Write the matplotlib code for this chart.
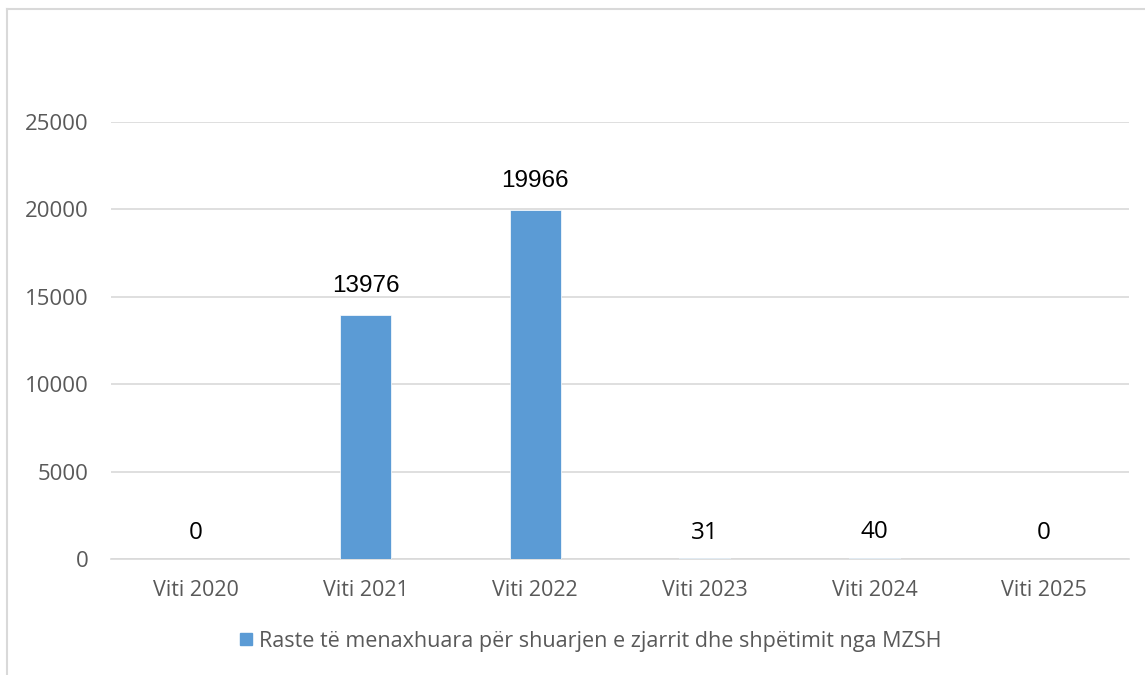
import matplotlib
matplotlib.use('Agg')
import numpy as np
from matplotlib import pyplot as plt
from matplotlib.lines import Line2D

categories = ['Viti 2020', 'Viti 2021', 'Viti 2022', 'Viti 2023', 'Viti 2024', 'Viti 2025']
values = [0, 13976, 19966, 31, 40, 0]
series_name = 'Raste të menaxhuara për shuarjen e zjarrit dhe shpëtimit nga MZSH'
y_ticks = [0, 5000, 10000, 15000, 20000, 25000]

bar_color = '#5B9BD5'
grid_color = '#D9D9D9'
text_gray = '#595959'

fig = plt.figure(figsize=(11.45, 6.75), dpi=100)
ax = fig.add_axes([0.0969, 0.1719, 0.889, 0.6474])

x = np.arange(len(categories))
bars = ax.bar(x, values, width=0.3, color=bar_color, edgecolor='white', linewidth=0.5, zorder=3)

# etiketat e vlerave
for xi, v in zip(x, values):
    if v > 1000:
        fam, off = ['Liberation Sans'], 13
    else:
        fam, off = ['Open Sans'], 10
    ax.annotate(str(v), (xi, v), xytext=(0, off), textcoords='offset points',
                ha='center', va='bottom', fontsize=17.5, color='black', family=fam)

ax.set_xlim(-0.5, len(categories) - 0.5)
ax.set_ylim(0, 25000)
ax.set_yticks(y_ticks)
ax.set_xticks(x)
ax.set_xticklabels(categories, family='Open Sans', fontsize=15.5, color=text_gray)
ax.set_yticklabels([str(t) for t in y_ticks], family='Open Sans', fontsize=16, color=text_gray)
ax.tick_params(axis='both', length=0)
ax.tick_params(axis='x', pad=15)
ax.tick_params(axis='y', pad=16)
ax.yaxis.grid(True, color=grid_color, linewidth=1.2, zorder=0)
for s in ['top', 'right', 'left']:
    ax.spines[s].set_visible(False)
ax.spines['bottom'].set_color(grid_color)
ax.spines['bottom'].set_linewidth(1.2)

# legjenda
handle = Line2D([], [], marker='s', linestyle='none', markersize=8, color=bar_color)
fig.legend([handle], [series_name], loc='center', bbox_to_anchor=(0.515, 0.05),
           frameon=False, handletextpad=0.2, handlelength=0.8,
           prop={'family': 'Open Sans', 'size': 15.5}, labelcolor=text_gray)

# kufiri i grafikut
fig.add_artist(Line2D([0.0065, 0.0065], [0.0, 0.987], color='#D9D9D9', lw=1.5))
fig.add_artist(Line2D([0.0065, 1.0], [0.987, 0.987], color='#D9D9D9', lw=1.5))

fig.savefig('out.png', dpi=100)
